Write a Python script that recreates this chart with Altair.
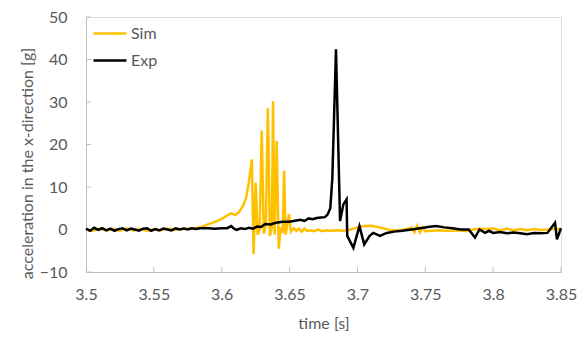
import altair as alt
import pandas as pd

# Simulation series
sim_t = [3.500, 3.505, 3.510, 3.515, 3.520, 3.525, 3.530, 3.535, 3.540, 3.545,
         3.550, 3.555, 3.560, 3.565, 3.570, 3.575, 3.580, 3.585, 3.590, 3.595,
         3.600, 3.604, 3.607, 3.610, 3.613, 3.616, 3.618, 3.620, 3.6222, 3.6235,
         3.625, 3.6265, 3.628, 3.6295, 3.631, 3.6325, 3.634, 3.6355, 3.637, 3.6378,
         3.639, 3.6405, 3.642, 3.6435, 3.645, 3.646, 3.647, 3.648, 3.6495, 3.651,
         3.653, 3.655, 3.657, 3.659, 3.661, 3.663, 3.665, 3.668, 3.671, 3.674,
         3.677, 3.680, 3.685, 3.690, 3.695, 3.700, 3.705, 3.710, 3.715, 3.720,
         3.725, 3.730, 3.735, 3.740, 3.742, 3.744, 3.746, 3.748, 3.750, 3.755,
         3.760, 3.765, 3.770, 3.775, 3.780, 3.785, 3.790, 3.795, 3.800, 3.805,
         3.810, 3.815, 3.820, 3.825, 3.830, 3.835, 3.840, 3.845, 3.850]
sim_a = [0.0, -0.3, 0.2, -0.2, 0.1, -0.3, 0.2, -0.2, 0.1, -0.3,
         0.0, -0.2, 0.2, -0.1, 0.1, 0.2, 0.3, 0.6, 1.2, 1.8,
         2.5, 3.3, 3.8, 3.4, 4.2, 5.8, 7.5, 11.0, 16.5, -5.8,
         11.0, -1.2, 0.0, 23.3, -1.0, 1.0, 28.5, -1.5, 0.5, 30.2,
         -1.2, 20.8, -4.5, 0.5, -0.8, 13.8, -1.2, 0.5, 3.6, -0.5,
         0.3, -0.3, 0.2, -0.5, 0.2, -0.4, -0.2, -0.4, 0.0, -0.4,
         -0.2, -0.3, -0.2, -0.3, 0.0, 0.5, 0.8, 0.9, 0.6, 0.2,
         -0.2, -0.2, 0.0, 0.4, -0.6, 0.9, -0.7, 0.4, -0.4, -0.3,
         -0.2, -0.3, -0.3, -0.2, -0.4, 0.0, 0.2, 0.1, 0.3, -0.2,
         0.2, -0.2, 0.1, -0.2, 0.1, -0.1, 0.0, 0.1, 0.1]

# Experiment series
exp_t = [3.500, 3.503, 3.506, 3.509, 3.512, 3.515, 3.518, 3.521, 3.524, 3.527,
         3.530, 3.533, 3.536, 3.539, 3.542, 3.545, 3.548, 3.551, 3.554, 3.557,
         3.560, 3.563, 3.566, 3.569, 3.572, 3.575, 3.578, 3.581, 3.584, 3.590,
         3.595, 3.600, 3.604, 3.607, 3.609, 3.611, 3.614, 3.617, 3.620, 3.623,
         3.626, 3.629, 3.632, 3.636, 3.640, 3.645, 3.650, 3.655, 3.658, 3.661,
         3.664, 3.667, 3.670, 3.673, 3.676, 3.678, 3.680, 3.6815, 3.6842, 3.6872,
         3.6896, 3.692, 3.6925, 3.697, 3.7015, 3.705, 3.709, 3.7117, 3.7166, 3.7216,
         3.727, 3.733, 3.740, 3.746, 3.752, 3.758, 3.764, 3.770, 3.776, 3.782,
         3.7866, 3.790, 3.794, 3.797, 3.800, 3.805, 3.810, 3.815, 3.820, 3.825,
         3.830, 3.835, 3.840, 3.8456, 3.847, 3.8493, 3.850]
exp_a = [0.2, -0.3, 0.4, -0.1, 0.3, -0.2, 0.2, -0.3, 0.1, 0.3,
         -0.2, 0.2, 0.0, -0.3, 0.2, 0.3, -0.3, 0.1, -0.2, 0.2,
         0.0, -0.2, 0.3, 0.0, 0.2, 0.0, 0.3, 0.1, 0.3, 0.3,
         0.2, 0.3, 0.3, 0.8, 0.2, -0.1, 0.3, 0.1, 0.4, 0.2,
         0.7, 0.6, 1.3, 1.2, 1.6, 1.8, 1.8, 2.1, 2.3, 2.0,
         2.6, 2.4, 2.7, 2.8, 2.9, 3.5, 5.0, 12.0, 42.4, 2.0,
         5.9, 7.1, -1.5, -4.3, 0.8, -3.5, -1.5, -0.8, -1.5, -0.8,
         -0.5, -0.3, 0.0, 0.3, 0.6, 0.8, 0.5, 0.3, 0.0, 0.0,
         -1.9, 0.0, -0.8, -0.3, -0.8, -0.6, -0.9, -0.7, -0.9, -1.1,
         -0.8, -0.9, -0.8, 1.6, -2.3, -0.3, 0.3]

x_ticks = [3.5, 3.55, 3.6, 3.65, 3.7, 3.75, 3.8, 3.85]
y_ticks = [-10, 0, 10, 20, 30, 40, 50]
series_names = ["Sim", "Exp"]
series_colors = ["#FFC000", "#000000"]

FONT = "Lato"
TXT = "#595959"
GRID = "#BFBFBF"
W, H = 475, 255

sim_df = pd.DataFrame({"t": sim_t, "a": sim_a, "series": "Sim"})
exp_df = pd.DataFrame({"t": exp_t, "a": exp_a, "series": "Exp"})
xt_df = pd.DataFrame({"t": x_ticks[1:]})
yt_df = pd.DataFrame({"a": y_ticks})

xscale = alt.Scale(domain=[3.5, 3.85], nice=False, zero=False)
yscale = alt.Scale(domain=[-10, 50], nice=False)

xaxis = alt.Axis(values=x_ticks, format=".2~f", ticks=False, tickSize=0, grid=False,
                 labelFlush=False, labelOverlap=False,
                 domainColor=GRID, labelFont=FONT, labelFontSize=16, labelColor=TXT,
                 labelPadding=14, title="time [s]", titleFont=FONT, titleFontSize=16,
                 titleFontWeight="normal", titleColor=TXT, titleBaseline="middle",
                 titleY=51)
yaxis = alt.Axis(values=y_ticks, ticks=False, tickSize=0, grid=False,
                 labelFlush=False, labelOverlap=False,
                 domainColor=GRID, labelFont=FONT, labelFontSize=16, labelColor=TXT,
                 labelPadding=19, title="acceleration in the x-direction [g]",
                 titleFont=FONT, titleFontSize=16, titleFontWeight="normal",
                 titleColor=TXT, titleAngle=270, titleBaseline="middle",
                 titleAlign="center", titleX=-59, titleY=146)

color = alt.Color("series:N",
                  scale=alt.Scale(domain=series_names, range=series_colors),
                  legend=alt.Legend(title=None, orient="none", legendX=6, legendY=3,
                                    symbolType="stroke", symbolSize=1089,
                                    symbolStrokeWidth=2.5, labelFont=FONT,
                                    labelFontSize=16, labelColor=TXT,
                                    clipHeight=27, rowPadding=0, labelOffset=3))

sim_line = alt.Chart(sim_df).mark_line(strokeWidth=2.5).encode(
    x=alt.X("t:Q", scale=xscale, axis=xaxis),
    y=alt.Y("a:Q", scale=yscale, axis=yaxis),
    color=color,
)
exp_line = alt.Chart(exp_df).mark_line(strokeWidth=2.5).encode(
    x=alt.X("t:Q", scale=xscale),
    y=alt.Y("a:Q", scale=yscale),
    color=color,
)
xticks = alt.Chart(xt_df).mark_rule(color=GRID, strokeWidth=1).encode(
    x=alt.X("t:Q", scale=xscale),
    y=alt.value(H), y2=alt.value(H - 5),
)
yticks = alt.Chart(yt_df).mark_rule(color=GRID, strokeWidth=1).encode(
    y=alt.Y("a:Q", scale=yscale),
    x=alt.value(0), x2=alt.value(5),
)

chart = alt.layer(xticks, yticks, sim_line, exp_line).properties(
    width=W, height=H,
    autosize=alt.AutoSizeParams(type="none"),
    padding={"left": 78, "top": 9, "right": 16, "bottom": 60},
).configure_view(stroke=None).configure(background="white")

chart.save("out.html", embed_options={"renderer": "svg", "actions": False})
